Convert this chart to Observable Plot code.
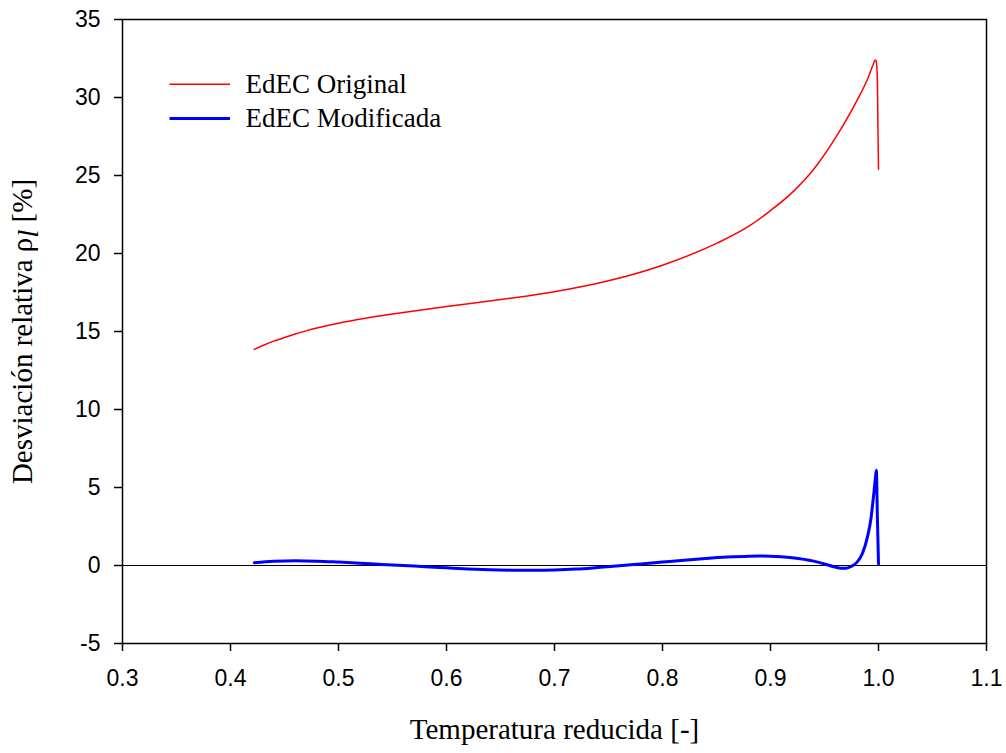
<!DOCTYPE html>
<html>
<head>
<meta charset="utf-8">
<script src="https://cdn.jsdelivr.net/npm/d3@7"></script>
<script src="https://cdn.jsdelivr.net/npm/@observablehq/plot@0.6"></script>
<style>
  html, body { margin: 0; padding: 0; background: #fff; }
  #chart { width: 1006px; height: 753px; }
</style>
</head>
<body>
<div id="chart"></div>
<script>
// ---- data ----
const tOriginal = [0.422, 0.43, 0.44, 0.45, 0.46, 0.47, 0.48, 0.49, 0.50, 0.525, 0.55, 0.575, 0.60, 0.65, 0.70, 0.75, 0.80, 0.85, 0.88, 0.90, 0.92, 0.94, 0.96, 0.98, 0.99, 0.995, 0.997, 0.998, 0.999, 0.9995, 1.0];
const devOriginal = [13.85, 14.1, 14.38, 14.62, 14.84, 15.04, 15.22, 15.38, 15.53, 15.85, 16.12, 16.36, 16.6, 17.05, 17.55, 18.25, 19.25, 20.65, 21.75, 22.75, 23.9, 25.4, 27.4, 29.8, 31.2, 32.1, 32.4, 32.3, 31.0, 28.0, 25.4];

const tModified = [0.422, 0.44, 0.46, 0.48, 0.50, 0.52, 0.54, 0.56, 0.58, 0.60, 0.62, 0.64, 0.66, 0.68, 0.70, 0.72, 0.74, 0.76, 0.78, 0.80, 0.82, 0.84, 0.86, 0.88, 0.89, 0.90, 0.92, 0.94, 0.95, 0.96, 0.965, 0.97, 0.975, 0.98, 0.985, 0.99, 0.993, 0.995, 0.997, 0.998, 0.999, 1.0];
const devModified = [0.18, 0.28, 0.3, 0.28, 0.22, 0.15, 0.07, 0.0, -0.08, -0.15, -0.22, -0.27, -0.3, -0.31, -0.29, -0.23, -0.13, -0.02, 0.1, 0.22, 0.34, 0.45, 0.54, 0.6, 0.61, 0.6, 0.5, 0.28, 0.1, -0.1, -0.17, -0.17, -0.05, 0.2, 0.75, 1.9, 3.0, 4.2, 5.5, 6.1, 3.0, 0.1];

const xTicks = [0.3, 0.4, 0.5, 0.6, 0.7, 0.8, 0.9, 1.0, 1.1];
const xTickLabels = ["0.3", "0.4", "0.5", "0.6", "0.7", "0.8", "0.9", "1.0", "1.1"];
const yTicks = [-5, 0, 5, 10, 15, 20, 25, 30, 35];

const seriesNames = ["EdEC Original", "EdEC Modificada"];
const seriesColors = ["#ff0000", "#0000ff"];
const seriesWidths = [1.5, 3];

const xLabel = "Temperatura reducida [-]";
const yLabelMain = "Desviación relativa ρ";
const yLabelSub = "l";
const yLabelTail = " [%]";

// legend placement in data units
const legendX = [0.344, 0.4];
const legendY = [30.85, 28.65];
const legendTextX = 0.414;

const original = tOriginal.map((t, i) => ({t, d: devOriginal[i]}));
const modified = tModified.map((t, i) => ({t, d: devModified[i]}));
const legend = seriesNames.map((name, i) => ({name, y: legendY[i], color: seriesColors[i], w: seriesWidths[i]}));

const tickFont = "Liberation Sans, Arial, sans-serif";
const serifFont = "Liberation Serif, Times New Roman, serif";

const plot = Plot.plot({
  width: 1006,
  height: 753,
  marginLeft: 122,
  marginRight: 20,
  marginTop: 19,
  marginBottom: 110,
  style: {background: "#fff", color: "#000"},
  x: {domain: [0.3, 1.1]},
  y: {domain: [-5, 35]},
  marks: [
    Plot.ruleY([0], {stroke: "#000", strokeWidth: 1}),
    Plot.line(original, {x: "t", y: "d", stroke: seriesColors[0], strokeWidth: seriesWidths[0], curve: "monotone-x"}),
    Plot.line(modified, {x: "t", y: "d", stroke: seriesColors[1], strokeWidth: seriesWidths[1], curve: "monotone-x"}),
    Plot.ruleY(legend, {y: "y", x1: legendX[0], x2: legendX[1], stroke: "color", strokeWidth: "w"}),
    Plot.text(legend, {x: legendTextX, y: "y", text: "name", textAnchor: "start", fontFamily: serifFont, fontSize: 27, fill: "#000"}),
    Plot.frame({stroke: "#000", strokeWidth: 1.5}),
    Plot.axisX({ticks: xTicks, tickFormat: (d, i) => xTickLabels[i], tickSize: 8, tickPadding: 18, fontSize: 23, fontFamily: tickFont, label: null, stroke: "#000", strokeWidth: 1.5}),
    Plot.axisY({ticks: yTicks, tickSize: 8, tickPadding: 14, fontSize: 23, fontFamily: tickFont, label: null, tickFormat: d => String(d), stroke: "#000", strokeWidth: 1.5}),
    Plot.text([xLabel], {frameAnchor: "bottom", dy: 86, fontFamily: serifFont, fontSize: 29, fill: "#000", textAnchor: "middle", lineAnchor: "middle"}),
    Plot.text([yLabelMain], {frameAnchor: "left", dx: -100, rotate: -90, fontFamily: serifFont, fontSize: 29, fill: "#000", textAnchor: "middle", lineAnchor: "middle", className: "ylab"})
  ]
});

// enrich the y label with an italic subscript
d3.select(plot).selectAll(".ylab text").each(function() {
  const t = d3.select(this);
  t.text(null);
  t.append("tspan").text(yLabelMain);
  t.append("tspan").attr("font-style", "italic").attr("baseline-shift", "-20%").text(yLabelSub);
  t.append("tspan").text(yLabelTail);
});

document.getElementById("chart").appendChild(plot);
</script>
</body>
</html>
